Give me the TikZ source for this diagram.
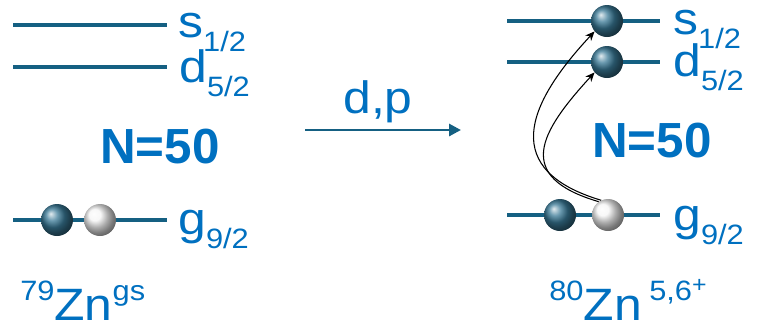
\documentclass[tikz,border=0pt]{standalone}
\usepackage{fontspec}
\setmainfont{Liberation Sans}
\newfontfamily\widesans[FakeStretch=1.1]{Liberation Sans}
\usetikzlibrary{arrows.meta}
\definecolor{znBlue}{RGB}{0,112,192}
\definecolor{znTeal}{RGB}{21,96,130}
\newcommand{\orb}[2]{#1\raisebox{-11pt}{\fontsize{21}{21}\selectfont #2}}
\newcommand{\upidx}[1]{\raisebox{15pt}{\fontsize{21}{21}\selectfont #1}}

\begin{document}
\begin{tikzpicture}[x=0.75pt, y=-0.75pt,
      every node/.style={text=znBlue, inner sep=0pt},
      level/.style={draw=znTeal, line width=2.6pt},
      orbit/.style={anchor=base west, font=\widesans\fontsize{34}{34}\selectfont},
      magic/.style={anchor=base, font=\fontsize{37}{37}\selectfont\bfseries},
      nucl/.style={anchor=base west, font=\widesans\fontsize{34}{34}\selectfont},
      nucleon/.style={circle, minimum size=24pt, shading=ball, ball color=znTeal!85!white},
      hole/.style={circle, minimum size=24pt, shading=ball, ball color=white!96!black},
      jump/.style={-{Stealth[length=7pt, width=6pt]}, line width=0.8pt, black}]
    \useasboundingbox (0,0) rectangle (757,329);
    % 79Zn ground state
    \draw[level] (13,25)  -- (167,25);
    \draw[level] (13,67)  -- (167,67);
    \draw[level] (13,220) -- (167,220);
    \node[nucleon] (ln) at (57,220)  {};
    \node[hole]    (lh) at (100,220) {};
    \node[orbit] (ls) at (178,37)  {\orb{s}{1/2}};
    \node[orbit] (ld) at (179,82)  {\orb{d}{5/2}};
    \node[orbit] (lg) at (178,234) {\orb{g}{9/2}};
    \node[magic] (lm) at (160,163) {N=50};
    \node[nucl]  (lz) at (20,320)  {\upidx{79}Zn\upidx{gs}};
    % reaction
    \coordinate (dp0) at (305,130);
    \coordinate (dp1) at (461,130);
    \draw[level, line width=2.2pt, -{Triangle[length=9pt, width=9pt]}] (dp0) -- (dp1);
    \node[anchor=base, font=\widesans\fontsize{34}{34}\selectfont] (dp) at (378,113) {d,p};
    % 80Zn excited states
    \draw[level] (507,21)  -- (660,21);
    \draw[level] (507,62)  -- (660,62);
    \draw[level] (507,215) -- (660,215);
    \node[nucleon] (rs) at (607,21)  {};
    \node[nucleon] (rd) at (607,62)  {};
    \node[nucleon] (rn) at (560,215) {};
    \node[hole]    (rh) at (608,215) {};
    \node[orbit] (rsl) at (673,34)  {\orb{s}{1/2}};
    \node[orbit] (rdl) at (673,76)  {\orb{d}{5/2}};
    \node[orbit] (rgl) at (673,230) {\orb{g}{9/2}};
    \node[magic] (rm) at (652,157) {N=50};
    \node[nucl]  (rz) at (549,320) {\upidx{80}Zn\,\upidx{5,6\raisebox{6pt}{\fontsize{17}{17}\selectfont+}}};
    \draw[jump] (rh.115) .. controls +(-100,-30) and +(-70,75) .. (rs.220);
    \draw[jump] (rh.125) .. controls +(-85,-25) and +(-55,60) .. (rd.220);
  \end{tikzpicture}
\end{document}
